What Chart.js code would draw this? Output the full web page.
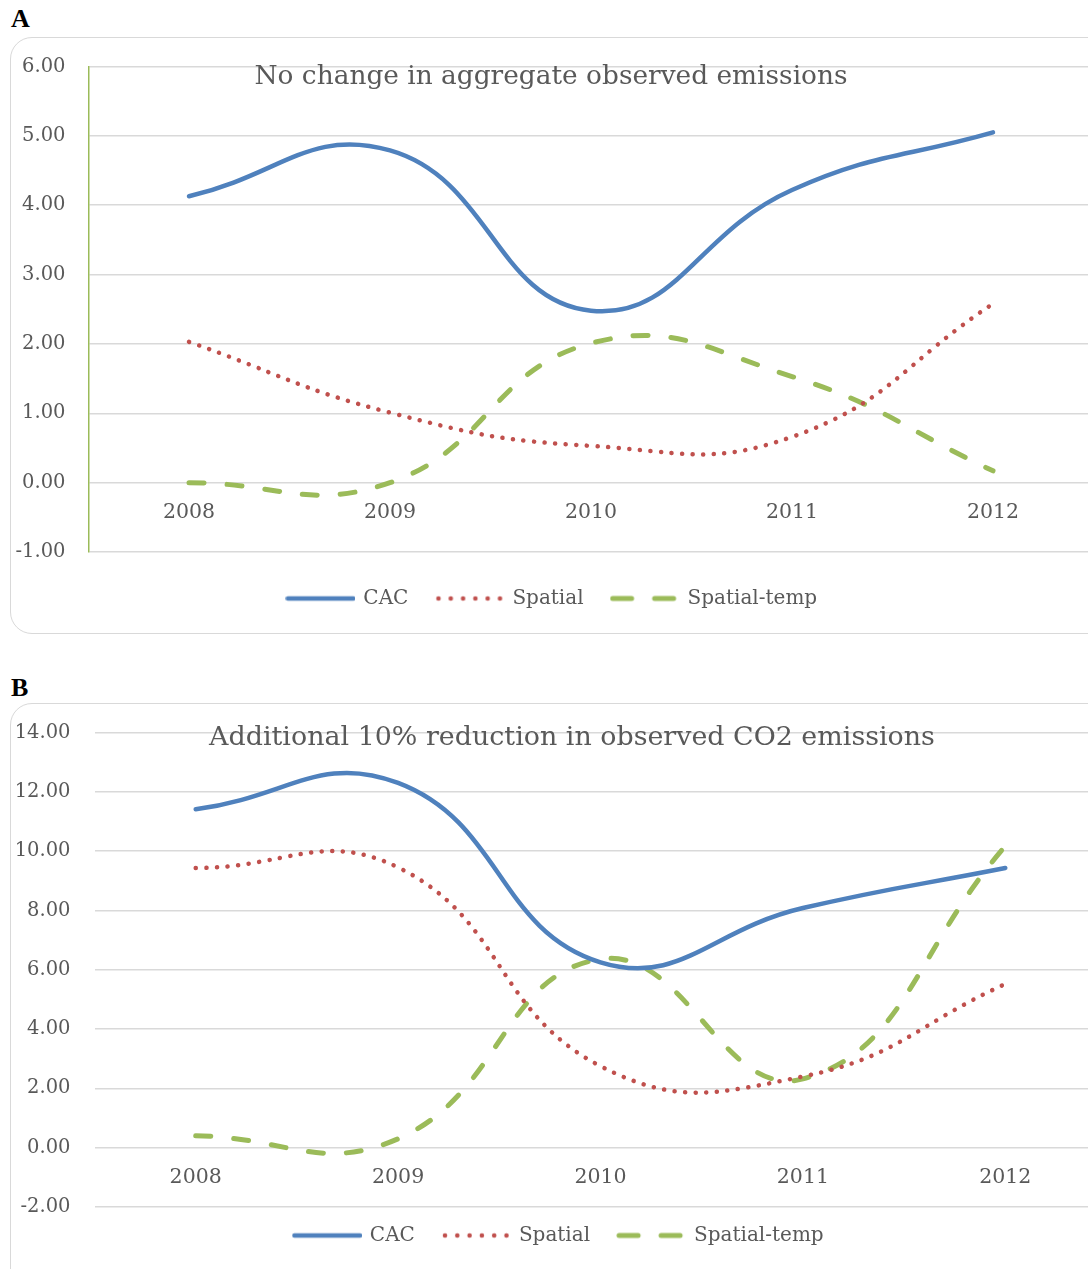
<!DOCTYPE html>
<html lang="en">
<head>
    <meta charset="UTF-8">
    <title>Emissions scenarios</title>
    <script src="https://cdn.jsdelivr.net/npm/chart.js"></script>
    <style>
        body { margin: 0; background: #fff; overflow: hidden; width: 1088px; height: 1269px; position: relative; font-family: 'DejaVu Serif', serif; }
        .lab { position: absolute; left: 11px; font-weight: bold; font-size: 26px; color: #000; font-family: 'Liberation Serif', serif; }
        .box { position: absolute; left: 10px; width: 1110px; border: 1.5px solid #d9d9d9; border-radius: 22px; box-sizing: border-box; }
        .wrap { position: absolute; left: 0; top: 0; width: 1100px; }
    </style>
</head>
<body>
    <div class="lab" style="top:4px">A</div>
    <div class="box" style="top:37px;height:597px">
        <div class="wrap" style="height:572px"><canvas id="chartA"></canvas></div>
    </div>
    <div class="lab" style="top:673px">B</div>
    <div class="box" style="top:703px;height:620px">
        <div class="wrap" style="height:561px"><canvas id="chartB"></canvas></div>
    </div>

    <script>
        const years = ['2008', '2009', '2010', '2011', '2012'];
        const seriesNames = ['CAC', 'Spatial', 'Spatial-temp'];

        // panel A: no change in aggregate observed emissions
        const cacA = [4.13, 4.79, 2.48, 4.22, 5.05];
        const spatialA = [2.03, 1.01, 0.53, 0.66, 2.58];
        const spatialTempA = [0.0, 0.0, 2.01, 1.53, 0.17];

        // panel B: additional 10% reduction in observed CO2
        const cacB = [11.41, 12.3, 6.25, 8.08, 9.43];
        const spatialB = [9.43, 9.45, 2.75, 2.4, 5.52];
        const spatialTempB = [0.4, 0.3, 6.36, 2.32, 10.17];

        const grey = '#595959';
        const gridGrey = '#d9d9d9';
        const colors = ['#4f81bd', '#c0504d', '#9bbb59'];

        // little legend swatches, so the dots and dashes show in the key too
        function swatch(color, lw, dash, start) {
            const c = document.createElement('canvas');
            c.width = 70; c.height = 10;
            const g = c.getContext('2d');
            g.strokeStyle = color;
            g.lineWidth = lw;
            g.lineCap = 'round';
            g.setLineDash(dash);
            g.beginPath();
            g.moveTo(start, 5);
            g.lineTo(70 - start + 0.5, 5);
            g.stroke();
            return c;
        }
        const keys = [
            swatch(colors[0], 4.5, [], 2.5),
            swatch(colors[1], 4.5, [0.1, 12.2], 4),
            swatch(colors[2], 5, [19, 23], 3)
        ];

        function makeDatasets(cac, sp, st) {
            return [
                { label: seriesNames[0], data: cac, borderColor: colors[0], backgroundColor: colors[0],
                  borderWidth: 4.5, borderCapStyle: 'round', tension: 0.45, pointRadius: 0, pointStyle: keys[0] },
                { label: seriesNames[1], data: sp, borderColor: colors[1], backgroundColor: colors[1],
                  borderWidth: 4.5, borderCapStyle: 'round', borderDash: [0.1, 10.5], tension: 0.45, pointRadius: 0, pointStyle: keys[1] },
                { label: seriesNames[2], data: st, borderColor: colors[2], backgroundColor: colors[2],
                  borderWidth: 5, borderCapStyle: 'round', borderDash: [15, 23], tension: 0.45, pointRadius: 0, pointStyle: keys[2] }
            ];
        }

        // title sits inside the plot area, so draw it on top
        const innerTitle = {
            id: 'innerTitle',
            afterLayout(chart, args, opts) {
                // nudge the legend row without changing its spacing
                chart.legend.top += opts.legendShift;
                chart.legend.bottom += opts.legendShift;
            },
            afterDraw(chart, args, opts) {
                const ctx = chart.ctx;
                ctx.save();
                ctx.font = opts.size + 'px "DejaVu Serif"';
                ctx.fillStyle = grey;
                ctx.textAlign = 'center';
                ctx.textBaseline = 'middle';
                ctx.fillText(opts.text, opts.x, opts.y);
                ctx.restore();
            }
        };

        function makeChart(id, cfg) {
            return new Chart(document.getElementById(id).getContext('2d'), {
                type: 'line',
                data: { labels: years, datasets: makeDatasets(cfg.cac, cfg.sp, cfg.st) },
                plugins: [innerTitle],
                options: {
                    responsive: true,
                    maintainAspectRatio: false,
                    animation: false,
                    layout: { padding: cfg.padding },
                    plugins: {
                        innerTitle: cfg.title,
                        tooltip: { enabled: false },
                        legend: {
                            position: 'bottom',
                            labels: {
                                usePointStyle: true,
                                pointStyleWidth: 66,
                                boxHeight: 10,
                                padding: 28,
                                color: grey,
                                font: { family: 'DejaVu Serif', size: 20 }
                            }
                        }
                    },
                    scales: {
                        x: {
                            position: { y: 0 },
                            offset: true,
                            grid: { display: false },
                            border: { display: false },
                            ticks: { color: grey, padding: 10, font: { family: 'DejaVu Serif', size: 20.5 } }
                        },
                        y: {
                            min: cfg.min, max: cfg.max,
                            grid: { color: gridGrey, lineWidth: 1.5, drawTicks: false },
                            border: cfg.yBorder,
                            afterFit: s => {
                                s.width = cfg.yWidth;
                                s.paddingTop = 0;
                                s.paddingBottom = 0;
                            },
                            ticks: {
                                stepSize: cfg.step,
                                padding: cfg.tickPad,
                                color: grey,
                                font: { family: 'DejaVu Serif', size: 19.5 },
                                callback: v => v.toFixed(2)
                            }
                        }
                    }
                }
            });
        }

        makeChart('chartA', {
            cac: cacA, sp: spatialA, st: spatialTempA,
            min: -1, max: 6, step: 1,
            yWidth: 77.5, tickPad: 23,
            yBorder: { display: true, color: '#9bbb59', width: 1.5 },
            padding: { top: 28.5, right: 17.5, bottom: 0, left: 0 },
            title: { text: 'No change in aggregate observed emissions', x: 540, y: 39, size: 26.4, legendShift: 8.5 }
        });

        makeChart('chartB', {
            cac: cacB, sp: spatialB, st: spatialTempB,
            min: -2, max: 14, step: 2,
            yWidth: 83.5, tickPad: 24,
            yBorder: { display: false },
            padding: { top: 28.5, right: 4.5, bottom: 0, left: 0 },
            title: { text: 'Additional 10% reduction in observed CO2 emissions', x: 561, y: 34, size: 26.9, legendShift: -9.5 }
        });
    </script>
</body>
</html>
